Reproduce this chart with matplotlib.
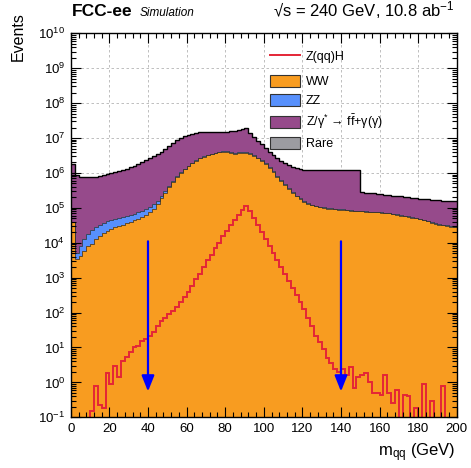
import matplotlib
matplotlib.use("Agg")
import matplotlib.pyplot as plt
import matplotlib.patches as mpatches
import matplotlib.lines as mlines
from matplotlib.ticker import MultipleLocator, LogLocator, NullFormatter
import numpy as np

plt.rcParams["font.family"] = ["Liberation Sans", "DejaVu Sans"]
plt.rcParams["mathtext.fontset"] = "custom"
plt.rcParams["mathtext.rm"] = "Liberation Sans"
plt.rcParams["mathtext.it"] = "Liberation Sans:italic"
plt.rcParams["mathtext.bf"] = "Liberation Sans:bold"

# m_qq histograms, 2 GeV bins from 0 to 200 GeV (events per bin)
bin_edges = np.arange(0, 202, 2)

ww = [
    4.0e4, 3.5e3, 4.2e3, 6.0e3, 7.9e3, 9.5e3, 1.26e4, 1.6e4, 1.85e4, 2.15e4,
    2.45e4, 2.75e4, 3.0e4, 3.3e4, 3.6e4, 4.0e4, 4.4e4, 4.8e4, 5.5e4, 6.3e4,
    7.6e4, 9.5e4, 1.3e5, 1.9e5, 2.75e5, 4.0e5, 5.6e5, 7.6e5, 1.0e6, 1.26e6,
    1.58e6, 1.9e6, 2.25e6, 2.6e6, 2.9e6, 3.2e6, 3.45e6, 3.7e6, 3.9e6, 4.0e6,
    4.0e6, 3.8e6, 3.6e6, 3.7e6, 3.8e6, 3.7e6, 3.45e6, 3.0e6, 2.6e6, 2.2e6,
    1.8e6, 1.4e6, 1.05e6, 7.9e5, 6.0e5, 4.6e5, 3.5e5, 2.7e5, 2.15e5, 1.8e5,
    1.5e5, 1.3e5, 1.2e5, 1.12e5, 1.05e5, 1.0e5, 9.5e4, 9.3e4, 9.1e4, 8.9e4,
    8.7e4, 8.5e4, 8.3e4, 8.1e4, 7.9e4, 7.9e4, 7.8e4, 7.6e4, 7.4e4, 7.4e4,
    7.2e4, 7.1e4, 6.9e4, 6.6e4, 6.3e4, 6.0e4, 5.75e4, 5.5e4, 5.25e4, 5.0e4,
    4.7e4, 4.4e4, 4.1e4, 3.8e4, 3.55e4, 3.3e4, 3.15e4, 3.0e4, 2.9e4, 2.75e4,
]

zz = [
    5e2, 1.5e3, 4.1e3, 7.2e3, 9.9e3, 1.39e4, 1.56e4, 1.71e4, 1.87e4, 1.92e4,
    2.02e4, 2.04e4, 2.13e4, 2.2e4, 2.29e4, 2.31e4, 2.36e4, 2.61e4, 2.63e4, 2.82e4,
    2.87e4, 3.09e4, 2.8e4, 3.0e4, 3.2e4, 3.5e4, 3.8e4, 4.2e4, 4.6e4, 5.0e4,
    5.5e4, 6.0e4, 6.6e4, 7.3e4, 8.0e4, 8.8e4, 9.8e4, 1.1e5, 1.25e5, 1.4e5,
    1.6e5, 1.85e5, 2.1e5, 2.4e5, 2.7e5, 2.8e5, 2.5e5, 2.0e5, 1.6e5, 1.2e5,
    9.0e4, 7.0e4, 5.5e4, 4.4e4, 3.5e4, 2.8e4, 2.0e4, 1.5e4, 1.1e4, 8.0e3,
    6.0e3, 5.0e3, 4.5e3, 4.2e3, 4.0e3, 3.8e3, 3.7e3, 3.6e3, 3.5e3, 3.4e3,
    3.3e3, 3.2e3, 3.1e3, 3.0e3, 2.9e3, 2.8e3, 2.7e3, 2.6e3, 2.5e3, 2.4e3,
    2.3e3, 2.2e3, 2.1e3, 2.0e3, 1.9e3, 1.85e3, 1.8e3, 1.75e3, 1.7e3, 1.65e3,
    1.6e3, 1.55e3, 1.5e3, 1.45e3, 1.4e3, 1.35e3, 1.3e3, 1.25e3, 1.2e3, 1.15e3,
]

zgamma = [
    1.76e6, 8.85e5, 7.8e5, 7.47e5, 7.4e5, 7.55e5, 7.6e5, 8.0e5, 8.3e5, 8.9e5,
    9.55e5, 1.02e6, 1.1e6, 1.17e6, 1.26e6, 1.39e6, 1.51e6, 1.7e6, 1.92e6, 2.2e6,
    2.5e6, 2.87e6, 3.34e6, 3.78e6, 4.49e6, 5.47e6, 6.6e6, 7.9e6, 8.95e6, 1.02e7,
    1.1e7, 1.15e7, 1.18e7, 1.18e7, 1.18e7, 1.15e7, 1.1e7, 1.07e7, 1.05e7, 1.07e7,
    1.09e7, 1.15e7, 1.2e7, 1.27e7, 1.39e7, 1.6e7, 1.03e7, 7.3e6, 5.7e6, 4.3e6,
    3.36e6, 2.53e6, 2.06e6, 1.8e6, 1.6e6, 1.41e6, 1.29e6, 1.2e6, 1.15e6, 1.13e6,
    1.1e6, 1.12e6, 1.1e6, 1.11e6, 1.09e6, 1.1e6, 1.11e6, 1.11e6, 1.12e6, 1.12e6,
    1.13e6, 1.13e6, 1.14e6, 1.15e6, 1.16e6, 1.97e5, 1.93e5, 1.9e5, 1.85e5, 1.8e5,
    1.75e5, 1.66e5, 1.63e5, 1.56e5, 1.54e5, 1.52e5, 1.49e5, 1.42e5, 1.4e5, 1.37e5,
    1.35e5, 1.35e5, 1.34e5, 1.33e5, 1.32e5, 1.31e5, 1.28e5, 1.26e5, 1.27e5, 1.25e5,
]

zh_signal = [
    0, 0, 0, 0, 0, 0.15, 0.8, 0.23, 0.18, 1.9,
    0.9, 2.9, 1.4, 4.0, 5.5, 7.5, 10, 11, 15, 17,
    22, 28, 40, 56, 70, 89, 112, 141, 200, 280,
    400, 560, 890, 1260, 2000, 3200, 4500, 7100, 1.0e4, 1.6e4,
    2.2e4, 3.2e4, 4.5e4, 6.3e4, 8.9e4, 1.12e5, 7.9e4, 5.0e4, 3.2e4, 2.0e4,
    1.26e4, 7.9e3, 5.0e3, 3.2e3, 2.0e3, 1.26e3, 790, 500, 320, 200,
    126, 71, 40, 22, 14, 9, 5.0, 3.5, 2.5, 2.0,
    2.5, 1.6, 2.8, 0.7, 1.4, 1.6, 1.8, 1.0, 0.5, 0.5,
    0.45, 1.6, 0.5, 0.25, 0.6, 0, 0.45, 0.4, 0, 0.18,
    0, 0.9, 0, 0.3, 0, 0, 0.8, 0, 0, 0,
]

# selection cuts on m_qq, arrows drawn from top to tip
cut_values = [40, 140]
arrow_top = 1.1e4
arrow_tip = 0.55

C_ZH = "#e42536"
C_WW = "#f89c20"
C_ZZ = "#5790fc"
C_ZG = "#964a8b"
C_RARE = "#9c9ca1"

fig = plt.figure(figsize=(4.71, 4.68), dpi=100)
ax = fig.add_axes([0.1503, 0.1083, 0.8195, 0.8205])
ax.set_yscale("log")
ax.set_xlim(0, 200)
ax.set_ylim(0.1, 1e10)

# stacked backgrounds
lower = np.full(len(ww), 1e-3)
for vals, col in [(ww, C_WW), (zz, C_ZZ), (zgamma, C_ZG)]:
    upper = lower + np.asarray(vals)
    ax.stairs(upper, bin_edges, baseline=lower, fill=True, color=col, lw=0, zorder=1)
    ax.stairs(upper, bin_edges, baseline=None, color="#333333", lw=0.55, zorder=1.1)
    lower = upper
ax.stairs(lower, bin_edges, baseline=None, color="black", lw=1.0, zorder=1.2)

ax.stairs(np.clip(zh_signal, 1e-3, None), bin_edges, baseline=None,
          color=C_ZH, lw=1.4, zorder=1.5)

for xc in cut_values:
    ax.annotate("", xy=(xc, arrow_tip), xytext=(xc, arrow_top),
                arrowprops=dict(arrowstyle="-|>,head_length=0.95,head_width=0.38",
                                color="#0000ff", lw=1.6, shrinkA=0, shrinkB=0,
                                mutation_scale=10),
                zorder=1.6)

# ticks, ROOT style
ax.xaxis.set_major_locator(MultipleLocator(20))
ax.xaxis.set_minor_locator(MultipleLocator(4))
ax.yaxis.set_major_locator(LogLocator(base=10, numticks=20))
ax.yaxis.set_minor_locator(LogLocator(base=10, subs=np.arange(2, 10), numticks=20))
ax.yaxis.set_minor_formatter(NullFormatter())
ax.tick_params(which="both", direction="in", top=True, right=True,
               labelsize=9.5, width=0.8, colors="black")
ax.tick_params(which="major", length=7, pad=4)
ax.tick_params(which="minor", length=3.5)
ax.set_axisbelow(False)
for sp in ax.spines.values():
    sp.set_linewidth(1.0)

# dashed grid under the histograms
for xv in ax.get_xticks():
    if 0 < xv < 200:
        ax.axvline(xv, color="#b4b4b4", ls=(0, (3, 3)), lw=0.6, zorder=0.5)
for yv in ax.get_yticks():
    if 0.1 < yv <= 1e10:
        ax.axhline(yv, color="#b4b4b4", ls=(0, (3, 3)), lw=0.6, zorder=0.5)

# legend: signal line on its own row, then the stacked backgrounds
leg_style = dict(loc="upper left", bbox_transform=fig.transFigure, frameon=False,
                 fontsize=9, handlelength=2.4, handleheight=1.1, handletextpad=0.45,
                 borderpad=0, borderaxespad=0)
sig_leg = ax.legend([mlines.Line2D([], [], color=C_ZH, lw=1.4)], ["Z(qq)H"],
                    bbox_to_anchor=(270 / 471, 1 - 50 / 468), **leg_style)
ax.add_artist(sig_leg)

bkg_handles = [
    mpatches.Patch(facecolor=c, edgecolor="#333333", lw=0.8)
    for c in (C_WW, C_ZZ, C_ZG, C_RARE)
]
bkg_labels = ["WW", "ZZ", r"Z/γ$^{*}$ → f$\bar{\mathrm{f}}$+γ(γ)", "Rare"]
ax.legend(bkg_handles, bkg_labels, labelspacing=0.46,
          bbox_to_anchor=(270 / 471, 1 - 75 / 468), **leg_style)

fig.text(72 / 471, 1 - 16 / 468, "FCC-ee", fontsize=12.5, fontweight="bold",
         ha="left", va="baseline")
fig.text(140 / 471, 1 - 16 / 468, "Simulation", fontsize=8.5, style="italic",
         ha="left", va="baseline")
fig.text(455 / 471, 1 - 16 / 468, "√s = 240 GeV, 10.8 ab$^{-1}$",
         fontsize=12, ha="right", va="baseline")
fig.text(455 / 471, 1 - 456 / 468, r"m$_{\mathrm{qq}}$ (GeV)", fontsize=12,
         ha="right", va="baseline")
fig.text(18 / 471, 1 - 12 / 468, "Events", fontsize=11.5, rotation=90,
         ha="center", va="top")

fig.savefig("out.png", dpi=100)
